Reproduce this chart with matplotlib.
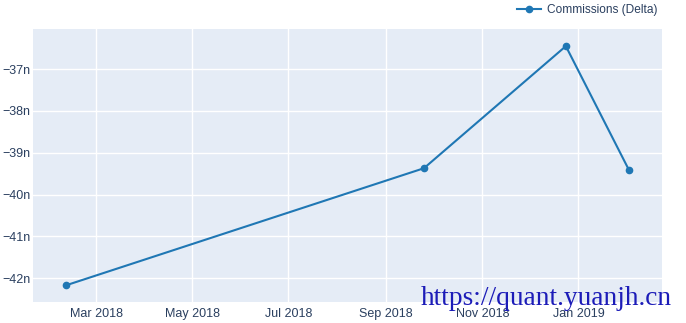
import matplotlib
matplotlib.use("Agg")
import matplotlib.pyplot as plt
import matplotlib.dates as mdates
from matplotlib.ticker import FuncFormatter, FixedLocator
import pandas as pd

dates = ["2018-02-10", "2018-09-25", "2018-12-24", "2019-02-02"]
values = [-42.17e-9, -39.37e-9, -36.45e-9, -39.41e-9]
series_name = "Commissions (Delta)"
y_ticks = [-42e-9, -41e-9, -40e-9, -39e-9, -38e-9, -37e-9]
x_ticks = ["2018-03-01", "2018-05-01", "2018-07-01", "2018-09-01", "2018-11-01", "2019-01-01"]
watermark = "https://quant.yuanjh.cn"

plt.rcParams['font.family'] = ['Liberation Sans', 'DejaVu Sans']

W, H = 686, 323
fig = plt.figure(figsize=(W/100, H/100), dpi=100)
L, R, T, B = 33, 662, 29, 302
ax = fig.add_axes([L/W, 1 - B/H, (R-L)/W, (B-T)/H])
ax.set_facecolor('#E5ECF6')
fig.patch.set_facecolor('white')

x = pd.to_datetime(dates)
line_color = '#1f77b4'
ax.plot(x, values, color=line_color, lw=1.5, marker='o', ms=4.5, label=series_name, zorder=3)

ax.set_xlim(pd.Timestamp("2018-01-20"), pd.Timestamp("2019-02-23"))
ax.set_ylim(-42.57e-9, -36.04e-9)

ax.xaxis.set_major_locator(FixedLocator(mdates.date2num(pd.to_datetime(x_ticks))))
ax.xaxis.set_major_formatter(mdates.DateFormatter('%b %Y'))
ax.yaxis.set_major_locator(FixedLocator(y_ticks))
ax.yaxis.set_major_formatter(FuncFormatter(lambda v, p: f"\u2212{abs(round(v*1e9)):.0f}n"))

ax.grid(True, color='white', lw=1)
ax.set_axisbelow(True)
for s in ax.spines.values():
    s.set_visible(False)
ax.tick_params(axis='both', length=0, labelsize=9, colors='#2a3f5f')
ax.tick_params(axis='y', pad=2)
ax.tick_params(axis='x', pad=4)

leg = fig.legend(loc='upper right', bbox_to_anchor=(0.969, 1.01), frameon=False,
                 fontsize=8.6, handlelength=2.0, handletextpad=0.5,
                 labelcolor='#2a3f5f', borderaxespad=0.2)

fig.text(672/W, 1 - 305/H, watermark, fontsize=19.7, color='#1c1cb8',
         family='Liberation Serif', ha='right', va='baseline')

fig.savefig('out.png', dpi=100)
